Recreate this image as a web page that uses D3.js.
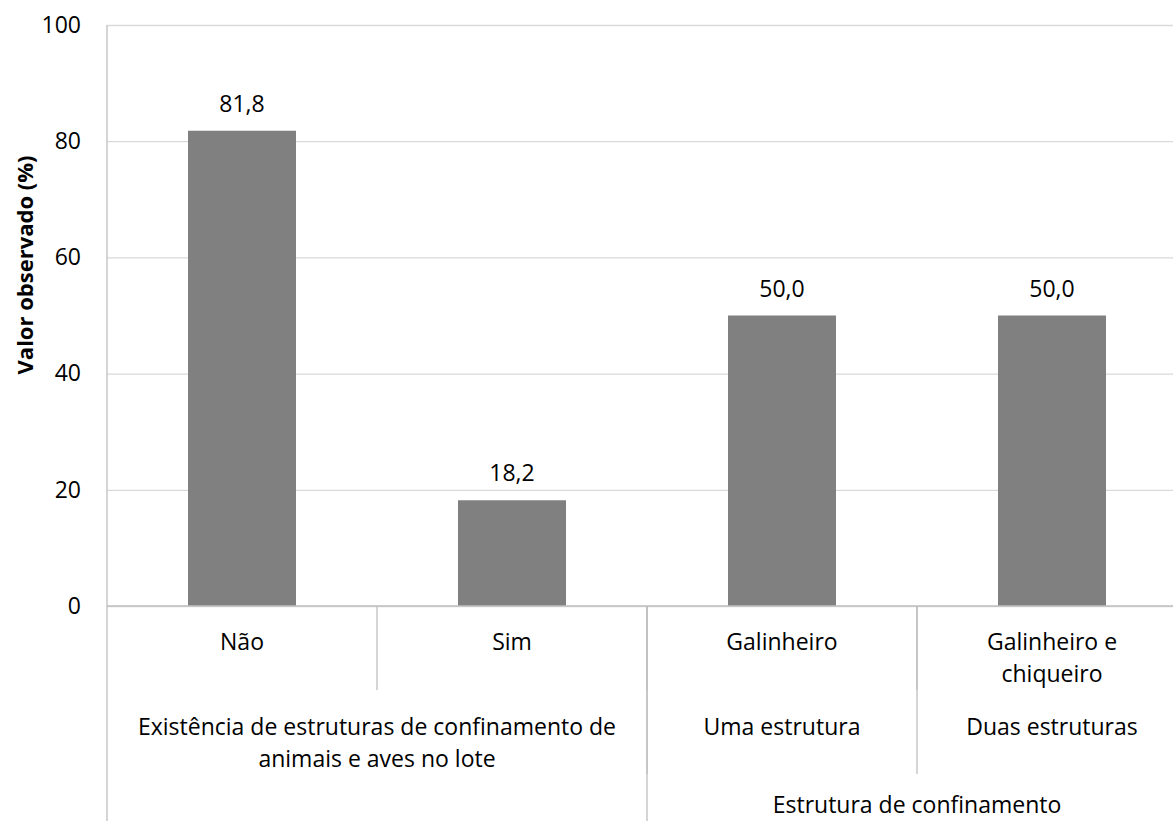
<!DOCTYPE html>
<html>
<head>
<meta charset="utf-8">
<script src="https://cdn.jsdelivr.net/npm/d3@7"></script>
<style>
  html, body { margin: 0; padding: 0; background: #fff; }
  svg { display: block; }
  text { font-family: "Open Sans", "Noto Sans", sans-serif; fill: #000; }
</style>
</head>
<body>
<svg id="chart" width="1173" height="821"></svg>
<script>
// Categories (first level of the category axis) and their values (%)
const categories = ["Não", "Sim", "Galinheiro", "Galinheiro e chiqueiro"];
const categoryLines = [["Não"], ["Sim"], ["Galinheiro"], ["Galinheiro e", "chiqueiro"]];
const values = [81.8, 18.2, 50.0, 50.0];
const valueLabels = ["81,8", "18,2", "50,0", "50,0"];

// Second level of the category axis: label lines and the category span (first, last)
const level2Lines = [
  ["Existência de estruturas de confinamento de", "animais e aves no lote"],
  ["Uma estrutura"],
  ["Duas estruturas"]
];
const level2Spans = [[0, 1], [2, 2], [3, 3]];

// Third level of the category axis
const level3Lines = [[], ["Estrutura de confinamento"]];
const level3Spans = [[0, 1], [2, 3]];

const yTicks = [0, 20, 40, 60, 80, 100];
const yTitle = "Valor observado (%)";

(function draw() {
  const svg = d3.select("#chart");
  const plotLeft = 107, plotRight = 1187, plotTop = 25, plotBottom = 606;
  const fs = 23;

  const y = d3.scaleLinear().domain([0, 100]).range([plotBottom, plotTop]);
  const x = d3.scaleBand().domain(categories).range([plotLeft, plotRight])
    .paddingInner(0.6).paddingOuter(0.3);
  const step = x.step();
  const edge = i => plotLeft + i * step;   // boundary between categories

  // Gridlines and value tick labels
  const yAxis = d3.axisLeft(y).tickValues(yTicks).tickSize(-(plotRight - plotLeft)).tickPadding(26)
    .tickFormat(d3.format("d"));
  const gy = svg.append("g").attr("transform", `translate(${plotLeft},0)`).call(yAxis);
  gy.select(".domain").remove();
  gy.selectAll(".tick line").attr("stroke", "#d9d9d9").attr("stroke-width", 1.3);
  gy.selectAll(".tick text").attr("font-size", fs).attr("fill", "#000")
    .style("font-family", "'Open Sans', sans-serif");

  // Vertical axis line, running down through the category levels
  svg.append("line").attr("x1", plotLeft).attr("x2", plotLeft).attr("y1", plotTop).attr("y2", 821)
    .attr("stroke", "#bfbfbf").attr("stroke-width", 1.3);

  // Bars
  svg.append("g").selectAll("rect").data(values).join("rect")
    .attr("x", (d, i) => x(categories[i]))
    .attr("width", x.bandwidth())
    .attr("y", d => y(d))
    .attr("height", d => y(0) - y(d))
    .attr("fill", "#808080");

  // Value labels above bars
  svg.append("g").selectAll("text").data(values).join("text")
    .attr("x", (d, i) => x(categories[i]) + x.bandwidth() / 2)
    .attr("y", d => y(d) - 19)
    .attr("text-anchor", "middle")
    .attr("font-size", fs)
    .text((d, i) => valueLabels[i]);

  // Horizontal category axis line
  svg.append("line").attr("x1", plotLeft).attr("x2", plotRight).attr("y1", plotBottom).attr("y2", plotBottom)
    .attr("stroke", "#bfbfbf").attr("stroke-width", 1.3);

  // Separator lines for each level of the category axis
  const levelBottoms = [690, 774, 821];
  const sepGroup = svg.append("g").attr("stroke", "#bfbfbf").attr("stroke-width", 1.3);
  function separators(spans, yEnd) {
    spans.forEach(s => {
      const xe = edge(s[1] + 1);
      sepGroup.append("line").attr("x1", xe).attr("x2", xe)
        .attr("y1", plotBottom).attr("y2", yEnd);
    });
  }
  separators(categories.map((c, i) => [i, i]), levelBottoms[0]);
  separators(level2Spans, levelBottoms[1]);
  separators(level3Spans, levelBottoms[2]);

  // Category labels per level
  function labels(linesArr, spans, baseY) {
    const g = svg.append("g");
    linesArr.forEach((lines, k) => {
      const cx = (edge(spans[k][0]) + edge(spans[k][1] + 1)) / 2;
      const t = g.append("text").attr("text-anchor", "middle").attr("font-size", fs)
        .attr("x", cx).attr("y", baseY);
      lines.forEach((ln, j) => {
        t.append("tspan").attr("x", cx).attr("dy", j === 0 ? 0 : 32).text(ln);
      });
    });
  }
  labels(categoryLines, categories.map((c, i) => [i, i]), 650);
  labels(level2Lines, level2Spans, 735);
  labels(level3Lines, level3Spans, 813);

  // Value axis title
  svg.append("text")
    .attr("transform", `translate(33,265) rotate(-90)`)
    .attr("text-anchor", "middle")
    .attr("font-size", 22)
    .attr("font-weight", "bold")
    .text(yTitle);
})();
</script>
</body>
</html>
